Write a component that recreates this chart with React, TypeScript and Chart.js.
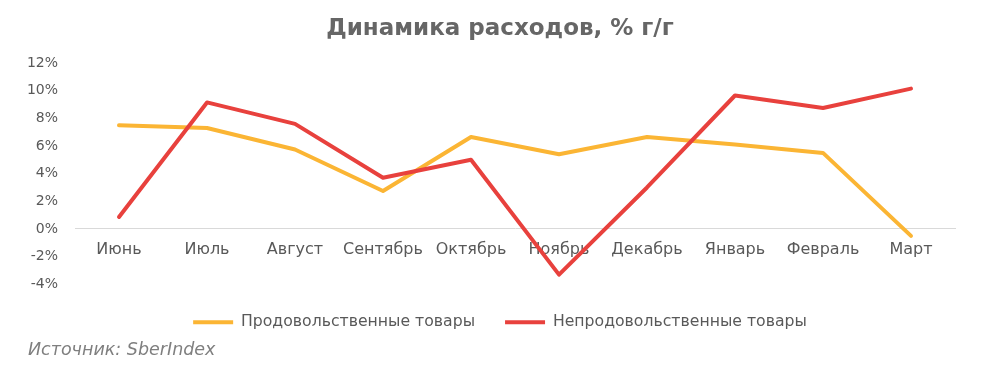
import React, { useEffect, useRef } from "react";
import { Chart, registerables } from "chart.js";

Chart.register(...registerables);

const categories = ["Июнь", "Июль", "Август", "Сентябрь", "Октябрь", "Ноябрь", "Декабрь", "Январь", "Февраль", "Март"];
const foodValues = [7.5, 7.3, 5.75, 2.75, 6.65, 5.4, 6.65, 6.1, 5.5, -0.5];
const nonFoodValues = [0.87, 9.15, 7.6, 3.7, 5.0, -3.3, 3.0, 9.65, 8.75, 10.15];
const seriesNames = ["Продовольственные товары", "Непродовольственные товары"];
const titleText = "Динамика расходов, % г/г";
const sourceText = "Источник: SberIndex";
const yMin = -4;
const yMax = 12;
const yStep = 2;

const FONT = "'DejaVu Sans', sans-serif";
const TEXT = "#595959";

export default function App() {
  const canvasRef = useRef<HTMLCanvasElement | null>(null);

  useEffect(() => {
    if (!canvasRef.current) return;
    const chart = new Chart(canvasRef.current, {
      type: "line",
      data: {
        labels: categories,
        datasets: [
          {
            label: seriesNames[0],
            data: foodValues,
            borderColor: "#FBB534",
            backgroundColor: "#FBB534",
            borderWidth: 4,
            pointRadius: 0,
            tension: 0,
            borderCapStyle: "round",
            borderJoinStyle: "round",
            order: 2,
          },
          {
            label: seriesNames[1],
            data: nonFoodValues,
            borderColor: "#E8413D",
            backgroundColor: "#E8413D",
            borderWidth: 4,
            pointRadius: 0,
            tension: 0,
            borderCapStyle: "round",
            borderJoinStyle: "round",
            order: 1,
          },
        ],
      },
      options: {
        animation: false,
        responsive: false,
        maintainAspectRatio: false,
        layout: { padding: { left: 0, right: 0, top: 0, bottom: 41 } },
        plugins: {
          title: {
            display: true,
            text: titleText,
            color: "#666666",
            font: { family: FONT, size: 23, weight: "bold" },
            padding: { top: 15, bottom: 20.4 },
          },
          legend: {
            position: "bottom",
            labels: {
              usePointStyle: true,
              pointStyle: "line",
              pointStyleWidth: 40,
              boxHeight: 15,
              padding: 30,
              color: TEXT,
              font: { family: FONT, size: 15.7 },
              sort: (a: any, b: any) => a.datasetIndex - b.datasetIndex,
            },
          },
          tooltip: { enabled: false },
        },
        scales: {
          x: {
            position: { y: 0 } as any,
            offset: true,
            grid: { display: false },
            border: { display: true, color: "#D9D9D9", width: 1 },
            ticks: {
              color: TEXT,
              font: { family: FONT, size: 16 },
              padding: 3,
              maxRotation: 0,
              autoSkip: false,
            },
          },
          y: {
            min: yMin,
            max: yMax,
            grid: { display: false },
            border: { display: false },
            afterFit: (scale: any) => {
              scale.width = 75;
            },
            ticks: {
              stepSize: yStep,
              color: TEXT,
              font: { family: FONT, size: 14 },
              padding: 9,
              callback: (v: any) => `${v}%`,
            },
          },
          yRight: {
            position: "right",
            min: yMin,
            max: yMax,
            grid: { display: false },
            border: { display: false },
            ticks: { display: false },
            afterFit: (scale: any) => {
              scale.width = 45;
            },
          },
        },
      },
    });
    return () => chart.destroy();
  }, []);

  return (
    <div style={{ position: "fixed", left: 0, top: 0, width: 1000, height: 381, background: "#fff" }}>
      <canvas ref={canvasRef} width={1000} height={381} style={{ width: 1000, height: 381, display: "block" }} />
      <div
        style={{
          position: "absolute",
          left: 28,
          top: 339,
          fontFamily: FONT,
          fontStyle: "italic",
          fontSize: 17.5,
          color: "#7F7F7F",
          whiteSpace: "nowrap",
        }}
      >
        {sourceText}
      </div>
    </div>
  );
}
